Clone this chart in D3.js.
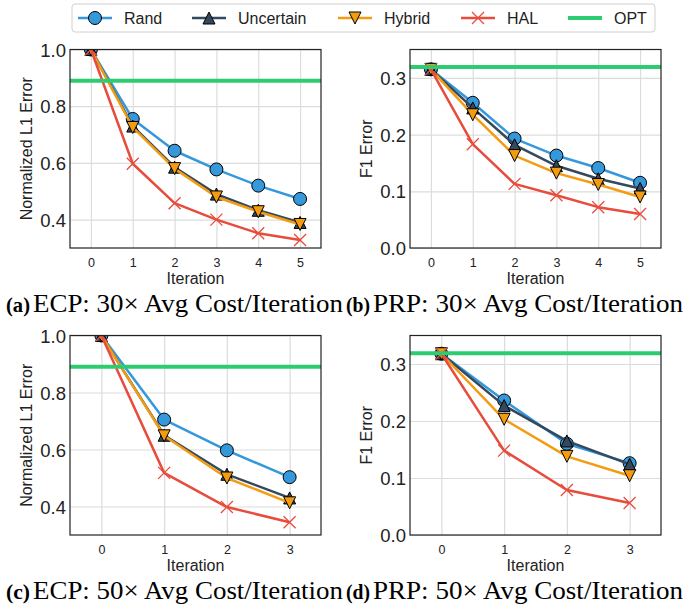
<!DOCTYPE html>
<html>
<head>
<meta charset="utf-8">
<script src="https://cdn.jsdelivr.net/npm/d3@7"></script>
<style>
  body { margin: 0; background: #fff; }
  svg { display: block; }
  .tick text { fill: #222; }
</style>
</head>
<body>
<div id="chart"></div>
<script>
// Series names and colours
const seriesNames = ["Rand", "Uncertain", "Hybrid", "HAL"];
const seriesColors = ["#3498db", "#34495e", "#f39c12", "#e74c3c"];
const optColor = "#2ecc71";

// Iterations
const iters5 = [0, 1, 2, 3, 4, 5];
const iters3 = [0, 1, 2, 3];

// (a) ECP, 30x
const ecp30Rand = [1.0, 0.755, 0.643, 0.577, 0.520, 0.473];
const ecp30Uncertain = [1.0, 0.730, 0.585, 0.490, 0.433, 0.390];
const ecp30Hybrid = [1.0, 0.725, 0.580, 0.480, 0.428, 0.383];
const ecp30HAL = [1.0, 0.597, 0.458, 0.400, 0.352, 0.328];
const ecp30Opt = 0.89;

// (b) PRP, 30x
const prp30Rand = [0.315, 0.256, 0.193, 0.163, 0.141, 0.115];
const prp30Uncertain = [0.315, 0.247, 0.182, 0.145, 0.122, 0.105];
const prp30Hybrid = [0.315, 0.235, 0.163, 0.132, 0.112, 0.090];
const prp30HAL = [0.315, 0.183, 0.113, 0.093, 0.072, 0.060];
const prp30Opt = 0.319;

// (c) ECP, 50x
const ecp50Rand = [1.0, 0.705, 0.597, 0.503];
const ecp50Uncertain = [1.0, 0.650, 0.513, 0.430];
const ecp50Hybrid = [1.0, 0.648, 0.500, 0.413];
const ecp50HAL = [1.0, 0.518, 0.398, 0.345];
const ecp50Opt = 0.89;

// (d) PRP, 50x
const prp50Rand = [0.318, 0.236, 0.160, 0.126];
const prp50Uncertain = [0.318, 0.227, 0.165, 0.124];
const prp50Hybrid = [0.318, 0.203, 0.138, 0.104];
const prp50HAL = [0.318, 0.148, 0.079, 0.056];
const prp50Opt = 0.319;

// Tick labels
const ecpTicks = [0.4, 0.6, 0.8, 1.0];
const prpTicks = [0.0, 0.1, 0.2, 0.3];

const width = 683, height = 607;
const sans = "'Liberation Sans', Arial, Helvetica, sans-serif";
const serif = "'Liberation Serif', 'Times New Roman', serif";

const svg = d3.select("#chart").append("svg")
  .attr("width", width)
  .attr("height", height);

const panels = [
  { id: "a", x0: 70, x1: 321, y0: 49.5, y1: 248, iters: iters5, yDomain: [0.3, 1.0], ticks: ecpTicks,
    series: [ecp30Rand, ecp30Uncertain, ecp30Hybrid, ecp30HAL], opt: ecp30Opt, ylabel: "Normalized L1 Error",
    tag: "(a)", caption: "ECP: 30\u00d7 Avg Cost/Iteration" },
  { id: "b", x0: 410, x1: 661, y0: 49.5, y1: 248, iters: iters5, yDomain: [0, 0.35], ticks: prpTicks,
    series: [prp30Rand, prp30Uncertain, prp30Hybrid, prp30HAL], opt: prp30Opt, ylabel: "F1 Error",
    tag: "(b)", caption: "PRP: 30\u00d7 Avg Cost/Iteration" },
  { id: "c", x0: 70, x1: 321, y0: 335.5, y1: 535, iters: iters3, yDomain: [0.3, 1.0], ticks: ecpTicks,
    series: [ecp50Rand, ecp50Uncertain, ecp50Hybrid, ecp50HAL], opt: ecp50Opt, ylabel: "Normalized L1 Error",
    tag: "(c)", caption: "ECP: 50\u00d7 Avg Cost/Iteration" },
  { id: "d", x0: 410, x1: 661, y0: 335.5, y1: 535, iters: iters3, yDomain: [0, 0.35], ticks: prpTicks,
    series: [prp50Rand, prp50Uncertain, prp50Hybrid, prp50HAL], opt: prp50Opt, ylabel: "F1 Error",
    tag: "(d)", caption: "PRP: 50\u00d7 Avg Cost/Iteration" }
];

// Marker drawing helper
function drawMarker(sel, idx, size) {
  const s = size;
  if (idx === 0) {
    sel.append("circle").attr("r", s + 0.5)
      .attr("fill", seriesColors[0]).attr("stroke", "#000").attr("stroke-width", 1);
  } else if (idx === 1) {
    sel.append("path").attr("d", `M0,${-s} L${s},${s} L${-s},${s} Z`)
      .attr("fill", seriesColors[1]).attr("stroke", "#000").attr("stroke-width", 1);
  } else if (idx === 2) {
    sel.append("path").attr("d", `M0,${s} L${s},${-s} L${-s},${-s} Z`)
      .attr("fill", seriesColors[2]).attr("stroke", "#000").attr("stroke-width", 1);
  } else {
    sel.append("path").attr("d", `M${-s},${-s} L${s},${s} M${-s},${s} L${s},${-s}`)
      .attr("fill", "none").attr("stroke", seriesColors[3]).attr("stroke-width", 1.3);
  }
}

panels.forEach(p => {
  const g = svg.append("g");
  const x = d3.scaleLinear().domain([-0.5, p.iters.length - 0.5]).range([p.x0, p.x1]);
  const y = d3.scaleLinear().domain(p.yDomain).range([p.y1, p.y0]);
  const w = p.x1 - p.x0, h = p.y1 - p.y0;

  // Grid
  g.append("g")
    .attr("transform", `translate(0,${p.y1})`)
    .call(d3.axisBottom(x).tickValues(p.iters).tickSize(-h).tickFormat(""))
    .call(a => a.select(".domain").remove())
    .call(a => a.selectAll("line").attr("stroke", "#dcdcdc").attr("stroke-width", 1.2));
  g.append("g")
    .attr("transform", `translate(${p.x0},0)`)
    .call(d3.axisLeft(y).tickValues(p.ticks).tickSize(-w).tickFormat(""))
    .call(a => a.select(".domain").remove())
    .call(a => a.selectAll("line").attr("stroke", "#dcdcdc").attr("stroke-width", 1.2));

  // Tick labels
  g.append("g")
    .attr("transform", `translate(0,${p.y1})`)
    .call(d3.axisBottom(x).tickValues(p.iters).tickSize(0).tickPadding(10).tickFormat(d3.format("d")))
    .call(a => a.select(".domain").remove())
    .call(a => a.selectAll("text").attr("font-family", sans).attr("font-size", 12.5));
  g.append("g")
    .attr("transform", `translate(${p.x0},0)`)
    .call(d3.axisLeft(y).tickValues(p.ticks).tickSize(0).tickPadding(4).tickFormat(d3.format(".1f")))
    .call(a => a.select(".domain").remove())
    .call(a => a.selectAll("text").attr("font-family", sans).attr("font-size", 18.5).attr("dy", "0.36em"));

  // Clip
  g.append("clipPath").attr("id", `clip-${p.id}`)
    .append("rect").attr("x", p.x0).attr("y", p.y0).attr("width", w).attr("height", h);
  const plot = g.append("g").attr("clip-path", `url(#clip-${p.id})`);

  const line = d3.line().x((d, i) => x(p.iters[i])).y(d => y(d));
  p.series.forEach((vals, si) => {
    plot.append("path").datum(vals)
      .attr("d", line)
      .attr("fill", "none")
      .attr("stroke", seriesColors[si])
      .attr("stroke-width", 2.5)
      .attr("stroke-linejoin", "round");
    vals.forEach((v, i) => {
      const m = plot.append("g").attr("transform", `translate(${x(p.iters[i])},${y(v)})`);
      drawMarker(m, si, 6);
    });
  });

  // OPT line
  plot.append("line")
    .attr("x1", p.x0).attr("x2", p.x1)
    .attr("y1", y(p.opt)).attr("y2", y(p.opt))
    .attr("stroke", optColor).attr("stroke-width", 4);

  // Frame
  g.append("rect")
    .attr("x", p.x0).attr("y", p.y0).attr("width", w).attr("height", h)
    .attr("fill", "none").attr("stroke", "#222").attr("stroke-width", 1.2);

  // Axis labels
  g.append("text")
    .attr("x", (p.x0 + p.x1) / 2).attr("y", p.y1 + 36)
    .attr("text-anchor", "middle")
    .attr("font-family", sans).attr("font-size", 16).attr("fill", "#222")
    .text("Iteration");
  g.append("text")
    .attr("transform", `translate(${p.x0 - 38},${(p.y0 + p.y1) / 2}) rotate(-90)`)
    .attr("text-anchor", "middle")
    .attr("font-family", sans).attr("font-size", 16).attr("fill", "#222")
    .text(p.ylabel);

  // Caption
  const cx = p.x0 - 64;
  const cy = p.y1 + 63.5;
  g.append("text")
    .attr("x", cx).attr("y", cy)
    .attr("font-family", serif).attr("font-weight", "bold").attr("font-size", 21)
    .attr("fill", "#000")
    .attr("textLength", 24).attr("lengthAdjust", "spacingAndGlyphs")
    .text(p.tag);
  g.append("text")
    .attr("x", cx + 27).attr("y", cy)
    .attr("font-family", serif).attr("font-size", 26)
    .attr("fill", "#000")
    .attr("textLength", 310).attr("lengthAdjust", "spacingAndGlyphs")
    .text(p.caption);
});

// Legend
const legend = svg.append("g");
legend.append("rect")
  .attr("x", 72).attr("y", 4).attr("width", 583).attr("height", 28)
  .attr("rx", 3).attr("fill", "#fff").attr("stroke", "#d0d0d0").attr("stroke-width", 1);

const legendNames = seriesNames.concat(["OPT"]);
const legendLineX = [78, 192, 338, 461, 568];
legendNames.forEach((name, i) => {
  const lx = legendLineX[i];
  const ly = 18;
  const color = i < 4 ? seriesColors[i] : optColor;
  legend.append("line")
    .attr("x1", lx).attr("x2", lx + 34).attr("y1", ly).attr("y2", ly)
    .attr("stroke", color).attr("stroke-width", i < 4 ? 2.5 : 4);
  if (i < 4) {
    const m = legend.append("g").attr("transform", `translate(${lx + 17},${ly})`);
    drawMarker(m, i, 6);
  }
  legend.append("text")
    .attr("x", lx + 46).attr("y", ly).attr("dy", "0.35em")
    .attr("font-family", sans).attr("font-size", 16).attr("fill", "#222")
    .text(name);
});
</script>
</body>
</html>
